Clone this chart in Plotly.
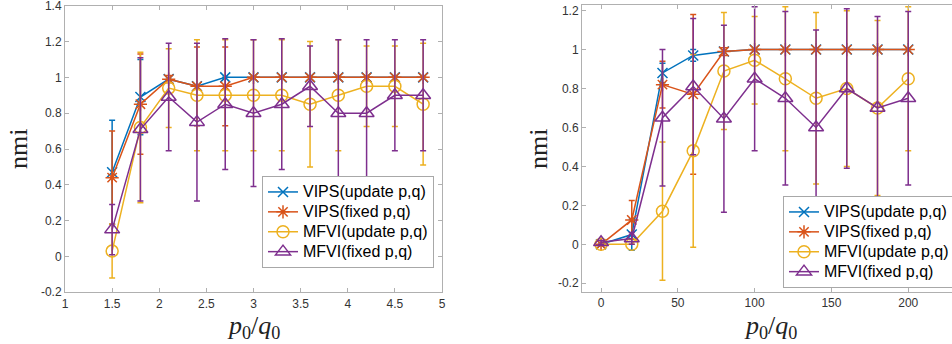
import plotly.graph_objects as go

# ---------------- data ----------------
legend_names = ["VIPS(update p,q)", "VIPS(fixed p,q)", "MFVI(update p,q)", "MFVI(fixed p,q)"]

# left panel
x_left = [1.5, 1.8, 2.1, 2.4, 2.7, 3.0, 3.3, 3.6, 3.9, 4.2, 4.5, 4.8]
vips_upd_left = [0.47, 0.89, 0.99, 0.95, 1.00, 1.00, 1.00, 1.00, 1.00, 1.00, 1.00, 1.00]
vips_upd_left_err = [0.29, 0.21, 0.0, 0.0, 0.0, 0.0, 0.0, 0.0, 0.0, 0.0, 0.0, 0.0]
vips_fix_left = [0.44, 0.85, 0.99, 0.95, 0.95, 1.00, 1.00, 1.00, 1.00, 1.00, 1.00, 1.00]
vips_fix_left_err = [0.26, 0.28, 0.02, 0.22, 0.22, 0.0, 0.0, 0.0, 0.0, 0.0, 0.0, 0.0]
mfvi_upd_left = [0.03, 0.72, 0.94, 0.90, 0.90, 0.90, 0.90, 0.85, 0.90, 0.95, 0.95, 0.85]
mfvi_upd_left_err = [0.15, 0.42, 0.22, 0.31, 0.31, 0.31, 0.31, 0.35, 0.31, 0.225, 0.225, 0.34]
mfvi_fix_left = [0.15, 0.71, 0.89, 0.75, 0.85, 0.80, 0.85, 0.95, 0.80, 0.80, 0.90, 0.90]
mfvi_fix_left_err = [0.14, 0.40, 0.30, 0.44, 0.365, 0.41, 0.365, 0.225, 0.41, 0.41, 0.31, 0.31]

# right panel
x_right = [0, 20, 40, 60, 80, 100, 120, 140, 160, 180, 200]
vips_upd_right = [0.0, 0.05, 0.88, 0.97, 0.99, 1.0, 1.0, 1.0, 1.0, 1.0, 1.0]
vips_upd_right_err = [0.0, 0.08, 0.05, 0.03, 0.0, 0.0, 0.0, 0.0, 0.0, 0.0, 0.0]
vips_fix_right = [0.0, 0.125, 0.82, 0.77, 0.99, 1.0, 1.0, 1.0, 1.0, 1.0, 1.0]
vips_fix_right_err = [0.0, 0.10, 0.12, 0.41, 0.02, 0.0, 0.0, 0.0, 0.0, 0.0, 0.0]
mfvi_upd_right = [0.0, 0.0, 0.17, 0.48, 0.89, 0.945, 0.85, 0.75, 0.80, 0.70, 0.85]
mfvi_upd_right_err = [0.0, 0.0, 0.355, 0.495, 0.30, 0.225, 0.37, 0.44, 0.40, 0.45, 0.37]
mfvi_fix_right = [0.01, 0.03, 0.65, 0.81, 0.645, 0.85, 0.75, 0.60, 0.80, 0.70, 0.75]
mfvi_fix_right_err = [0.01, 0.03, 0.35, 0.35, 0.48, 0.37, 0.445, 0.50, 0.41, 0.47, 0.445]

# ticks
left_xticks = [1, 1.5, 2, 2.5, 3, 3.5, 4, 4.5, 5]
left_xticklabels = ["1", "1.5", "2", "2.5", "3", "3.5", "4", "4.5", "5"]
left_yticks = [-0.2, 0, 0.2, 0.4, 0.6, 0.8, 1.0, 1.2, 1.4]
left_yticklabels = ["-0.2", "0", "0.2", "0.4", "0.6", "0.8", "1", "1.2", "1.4"]
right_xticks = [0, 50, 100, 150, 200]
right_xticklabels = ["0", "50", "100", "150", "200"]
right_yticks = [-0.2, 0, 0.2, 0.4, 0.6, 0.8, 1.0, 1.2]
right_yticklabels = ["-0.2", "0", "0.2", "0.4", "0.6", "0.8", "1", "1.2"]

# ---------------- style ----------------
colors = ["#0072BD", "#D95319", "#EDB120", "#7E2F8E"]
symbols = ["x-thin-open", "asterisk-open", "circle-open", "triangle-up-open"]
sizes = [10, 11, 12, 13]

W, H = 952, 344
fig = go.Figure()

def leg_label(s):
    return '<span style="font-size:16px">' + s + '</span>'

left_series = [(vips_upd_left, vips_upd_left_err), (vips_fix_left, vips_fix_left_err),
               (mfvi_upd_left, mfvi_upd_left_err), (mfvi_fix_left, mfvi_fix_left_err)]
right_series = [(vips_upd_right, vips_upd_right_err), (vips_fix_right, vips_fix_right_err),
                (mfvi_upd_right, mfvi_upd_right_err), (mfvi_fix_right, mfvi_fix_right_err)]

for i, (y, e) in enumerate(left_series):
    fig.add_trace(go.Scatter(
        x=x_left, y=y, name=leg_label(legend_names[i]), mode="lines+markers",
        line=dict(color=colors[i], width=1.5),
        marker=dict(symbol=symbols[i], size=sizes[i], color=colors[i],
                    line=dict(color=colors[i], width=1.5)),
        error_y=dict(type="data", array=e, visible=True, color=colors[i], thickness=1.5, width=3),
        xaxis="x", yaxis="y", legend="legend", cliponaxis=True))

for i, (y, e) in enumerate(right_series):
    fig.add_trace(go.Scatter(
        x=x_right, y=y, name=leg_label(legend_names[i]), mode="lines+markers",
        line=dict(color=colors[i], width=1.5),
        marker=dict(symbol=symbols[i], size=sizes[i], color=colors[i],
                    line=dict(color=colors[i], width=1.5)),
        error_y=dict(type="data", array=e, visible=True, color=colors[i], thickness=1.5, width=3),
        xaxis="x2", yaxis="y2", legend="legend2", cliponaxis=True))

axcol = "#b0b0b0"
tickfont = dict(family="Liberation Sans, Arial, sans-serif", size=12, color="#333333")
common = dict(showgrid=False, zeroline=False, showline=True, linecolor=axcol, linewidth=1,
              ticks="inside", ticklen=4, tickcolor=axcol, tickwidth=1, tickfont=tickfont,
              ticklabeloverflow="allow")

def px_x(p):
    return p / W

def px_y(p):
    return 1 - p / H

legfont = dict(family="Liberation Sans, Arial, sans-serif", size=13, color="black")

fig.update_layout(
    width=W, height=H, margin=dict(l=0, r=0, t=0, b=0, autoexpand=False),
    paper_bgcolor="white", plot_bgcolor="white",
    xaxis=dict(domain=[px_x(65), px_x(442)], range=[0.9999, 5.0001], tickvals=left_xticks,
               ticktext=left_xticklabels, anchor="y", mirror="ticks", **common),
    yaxis=dict(domain=[px_y(292.3), px_y(5.7)], range=[-0.2001, 1.4001], tickvals=left_yticks,
               ticktext=left_yticklabels, anchor="x", mirror="ticks", **common),
    xaxis2=dict(domain=[px_x(582), 1.0], range=[-12.4, 228.5], tickvals=right_xticks,
                ticktext=right_xticklabels, anchor="y2", mirror="ticks", **common),
    yaxis2=dict(domain=[px_y(292), px_y(5)], range=[-0.245, 1.229], tickvals=right_yticks,
                ticktext=right_yticklabels, anchor="x2", mirror=False, **common),
    legend=dict(x=px_x(262), y=px_y(176), xanchor="left", yanchor="top",
                bgcolor="white", bordercolor="#a8a8a8", borderwidth=1,
                font=legfont, tracegroupgap=0, itemwidth=30),
    legend2=dict(x=px_x(783), y=px_y(196), xanchor="left", yanchor="top",
                 bgcolor="white", bordercolor="#a8a8a8", borderwidth=1,
                 font=legfont, tracegroupgap=0, itemwidth=30),
    showlegend=True,
)

serif = dict(family="Liberation Serif, Times New Roman, serif", size=26, color="#222222")
xlab = "<i>p</i><sub>0</sub>/<i>q</i><sub>0</sub>"
annots = [
    dict(x=px_x(18), y=px_y(149), text="nmi", textangle=-90, font=serif),
    dict(x=px_x(538), y=px_y(149), text="nmi", textangle=-90, font=serif),
    dict(x=px_x(253), y=px_y(327), text=xlab, font=serif),
    dict(x=px_x(770), y=px_y(327), text=xlab, font=serif),
]
for a in annots:
    fig.add_annotation(xref="paper", yref="paper", showarrow=False,
                       xanchor="center", yanchor="middle", **a)

fig.write_html("out.html")
